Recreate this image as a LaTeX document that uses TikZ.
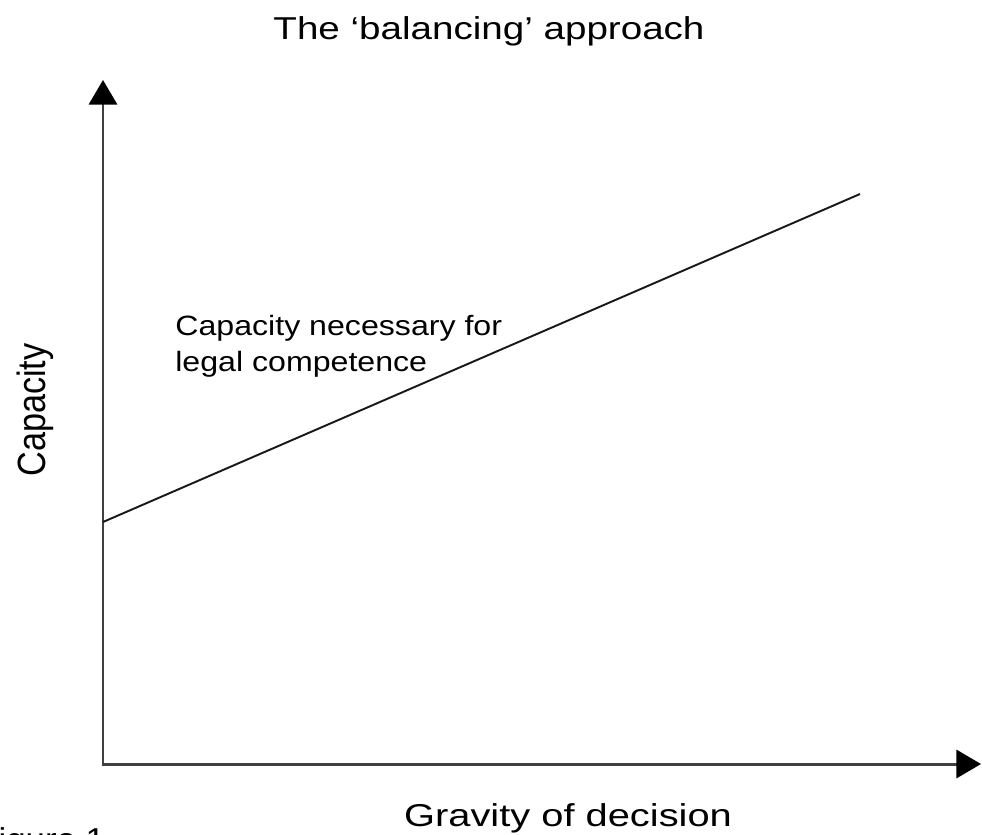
\documentclass[tikz,border=0pt]{standalone}
\usepackage{fontspec}
\setmainfont{Liberation Sans}
\usetikzlibrary{arrows.meta}
\newcommand{\wider}[2]{\scalebox{#1}[1]{#2}}

\begin{document}
\begin{tikzpicture}[x=0.02cm,y=-0.02cm,>={Triangle[length=14pt,width=16pt,color=black]}]
\tikzset{
    axis/.style={%
        draw=black!75, line width=1.7pt
        },
    bound/.style={%
        draw=black!90, line width=1.1pt
        },
    ttl/.style={%
        font=\fontsize{18}{22}\selectfont,
        inner sep=0pt
        },
    lbl/.style={%
        font=\fontsize{15.9}{19}\selectfont,
        inner sep=0pt
        },
}
\clip (0,0) rectangle (982,834);
%%%AXES
\coordinate (ytip) at (103,80);
\coordinate (o) at (103,764);
\coordinate (xtip) at (981,764);
\draw[axis,<->] (ytip) -- (o) -- (xtip);
%%%THRESHOLD LINE
\coordinate (lstart) at (103,522);
\coordinate (lend) at (860,194);
\draw[bound] (lstart) -- (lend);
%%%TEXTS
\node[ttl, anchor=base] (title) at (489,40) {\wider{1.22}{The ‘balancing’ approach}};
\node[ttl, anchor=base] (xlabel) at (568,826) {\wider{1.26}{Gravity of decision}};
\node[font=\fontsize{19.5}{22}\selectfont, inner sep=0pt, rotate=90, anchor=base] (ylabel) at (45,410) {\scalebox{1}[1.15]{Capacity}};
\node[lbl, anchor=base west] (need1) at (175,335) {\wider{1.15}{Capacity necessary for}};
\node[lbl, anchor=base west] (need2) at (175,371) {\wider{1.15}{legal competence}};
\node[ttl, anchor=base west] (fig) at (-23,850) {\wider{1.1}{Figure 1}};
\end{tikzpicture}
\end{document}
